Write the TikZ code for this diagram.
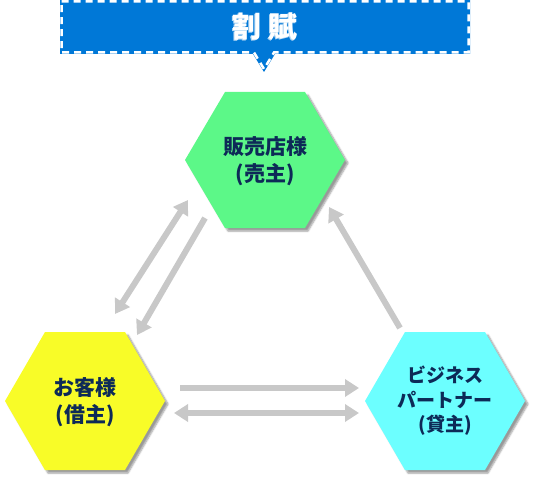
\documentclass[tikz,border=0pt]{standalone}
\usepackage{fontspec}
\newfontfamily\jp{Noto Sans CJK JP}[BoldFont={Noto Sans CJK JP Black}]
\usetikzlibrary{arrows.meta,shadows.blur}
\definecolor{bannerblue}{RGB}{0,120,215}
\definecolor{hexgreen}{RGB}{92,248,136}
\definecolor{hexyellow}{RGB}{248,252,40}
\definecolor{hexcyan}{RGB}{108,255,255}
\definecolor{navy}{RGB}{13,42,87}
\definecolor{arrowgray}{RGB}{200,200,200}
\tikzset{
  hexshape/.style={blur shadow={shadow xshift=3pt,shadow yshift=-3pt,shadow blur steps=6,shadow opacity=40}},
  hexlabel/.style={font=\jp\bfseries\fontsize{21}{27}\selectfont,text=navy,align=center,inner sep=0pt},
  flow/.style={draw=arrowgray,line width=6pt,-{Triangle[length=14pt,width=17pt]}},
  flowboth/.style={flow,{Triangle[length=14pt,width=17pt]}-{Triangle[length=14pt,width=17pt]}},
}
\begin{document}
\begin{tikzpicture}[x=1pt,y=-1pt]
\useasboundingbox (0,0) rectangle (534,481);
% banner
\fill[bannerblue] (60,0) -- (470,0) -- (470,54) -- (275,54) -- (264,72) -- (253,54) -- (60,54) -- cycle;
\draw[white,line width=2.5pt,dash pattern=on 7pt off 5pt] (61.5,1.5) -- (468.5,1.5) -- (468.5,52.5) -- (274,52.5) -- (264,69) -- (254,52.5) -- (61.5,52.5) -- cycle;
\node[font=\jp\bfseries\fontsize{29}{30}\selectfont,text=white!70!bannerblue,inner sep=0pt] at (264,28) {割\hspace{8pt}賦};
\node[font=\jp\bfseries\fontsize{29}{30}\selectfont,text=white,inner sep=0pt] (title) at (265,27) {割\hspace{8pt}賦};
% hexagons
\path[hexshape,fill=hexgreen] (265,160) +(-80,0) -- +(-40,-68) -- +(40,-68) -- +(80,0) -- +(40,68) -- +(-40,68) -- cycle;
\path[hexshape,fill=hexyellow] (85,401) +(-80,0) -- +(-40,-69) -- +(40,-69) -- +(80,0) -- +(40,69) -- +(-40,69) -- cycle;
\path[hexshape,fill=hexcyan] (445,401) +(-80,0) -- +(-40,-69) -- +(40,-69) -- +(80,0) -- +(40,69) -- +(-40,69) -- cycle;
\node[hexlabel] (seller) at (265,161) {販売店様\\(売主)};
\node[hexlabel] (customer) at (85,402) {お客様\\(借主)};
\node[hexlabel,font=\jp\bfseries\fontsize{19}{24.5}\selectfont] (partner) at (445,401) {ビジネス\\パートナー\\(貸主)};
% arrow end points
\coordinate (a1s) at (188,200); \coordinate (a1e) at (115,314);
\coordinate (a2s) at (205,218); \coordinate (a2e) at (137,335);
\coordinate (a3s) at (400,328); \coordinate (a3e) at (329,207);
\coordinate (a4s) at (180,388); \coordinate (a4e) at (359,388);
\coordinate (a5s) at (174,413); \coordinate (a5e) at (359,413);
\draw[flowboth] (a1s) -- (a1e);
\draw[flow] (a2s) -- (a2e);
\draw[flow] (a3s) -- (a3e);
\draw[flow] (a4s) -- (a4e);
\draw[flowboth] (a5s) -- (a5e);
\end{tikzpicture}
\end{document}
